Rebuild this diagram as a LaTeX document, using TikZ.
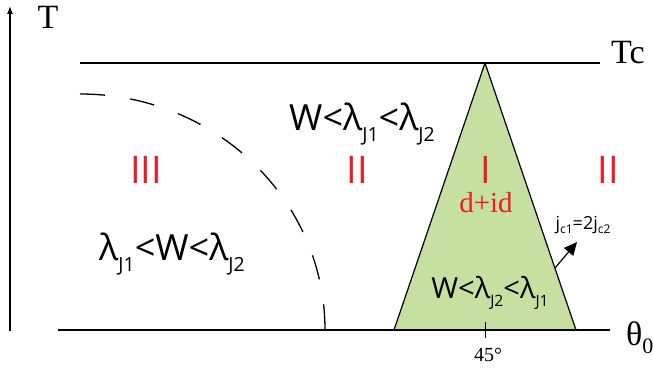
\documentclass[tikz,border=0pt]{standalone}
\usepackage{fontspec}
\setmainfont{Liberation Serif}
\newfontfamily\myriad{Open Sans}
\usepackage{xcolor}
\usetikzlibrary{arrows.meta}
\definecolor{phasegreen}{RGB}{197,224,160}
\definecolor{phasered}{RGB}{237,28,36}
\newcommand{\lowsub}[1]{\raisebox{-0.55ex}{\fontsize{0.54em}{1em}\selectfont #1}}

\begin{document}
\begin{tikzpicture}[x=1pt,y=-1pt,>=Latex,line join=round,
  region/.style={text=phasered,inner sep=0pt,font=\fontsize{38}{38}\selectfont\myriad},
  ineq/.style={inner sep=0pt,font=\fontsize{36}{36}\selectfont\myriad},
  axlabel/.style={inner sep=0pt,font=\fontsize{34}{34}\selectfont}]
  \useasboundingbox (0,0) rectangle (653,371);
  % axes
  \coordinate (O) at (10,331);
  \coordinate (Ytop) at (10,6);
  \coordinate (Xl) at (58,330);
  \coordinate (Xr) at (610,330);
  \coordinate (TcL) at (80,63);
  \coordinate (TcR) at (600,63);
  % triangle of phase I
  \coordinate (Apex) at (485,63);
  \coordinate (BL) at (394,330);
  \coordinate (BR) at (576,330);
  \coordinate (Foot) at (555,268);
  \coordinate (Tip) at (577,242);
  \filldraw[fill=phasegreen,line width=1.2pt] (BL) -- (Apex) -- (BR) -- cycle;
  \draw[->,line width=1.1pt] (O) -- (Ytop);
  \draw[line width=1.2pt] (Xl) -- (Xr);
  \draw[line width=1.1pt] (TcL) -- (TcR);
  \draw[line width=0.8pt] (485,322) -- (485,338);
  % dashed boundary
  \draw[line width=1.3pt,dash pattern=on 25pt off 25.3pt] (80,94)
    arc[start angle=-90,end angle=0,x radius=245,y radius=236];
  \draw[-{Triangle[length=13pt,width=12pt]},line width=1.2pt] (Foot) -- (Tip);
  % labels
  \node[axlabel] (T) at (48,17) {T};
  \node[axlabel,anchor=west] (Tc) at (611,53) {Tc};
  \node[axlabel,anchor=west] (theta) at (626,338) {θ\raisebox{-0.5ex}{\fontsize{22}{22}\selectfont 0}};
  \node[inner sep=0pt,font=\fontsize{20}{20}\selectfont] (deg) at (488,355) {45°};
  \node[region] (r3) at (146,170) {III};
  \node[region] (r2a) at (357,170) {II};
  \node[region] (r1) at (486,170) {I};
  \node[region] (r2b) at (608,170) {II};
  \node[text=phasered,inner sep=0pt,font=\fontsize{29}{29}\selectfont] (did) at (486,203) {d+id};
  \node[ineq] (top) at (362,124) {W<λ\lowsub{J1}<λ\lowsub{J2}};
  \node[ineq] (left) at (172,254) {λ\lowsub{J1}<W<λ\lowsub{J2}};
  \node[ineq,font=\fontsize{29}{29}\selectfont\myriad] (inner) at (490,293) {W<λ\lowsub{J2}<λ\lowsub{J1}};
  \node[inner sep=0pt,font=\fontsize{18}{18}\selectfont\myriad] (jc) at (583,225)
    {j\raisebox{-0.5ex}{\fontsize{12}{12}\selectfont c1}=2j\raisebox{-0.5ex}{\fontsize{12}{12}\selectfont c2}};
\end{tikzpicture}
\end{document}
